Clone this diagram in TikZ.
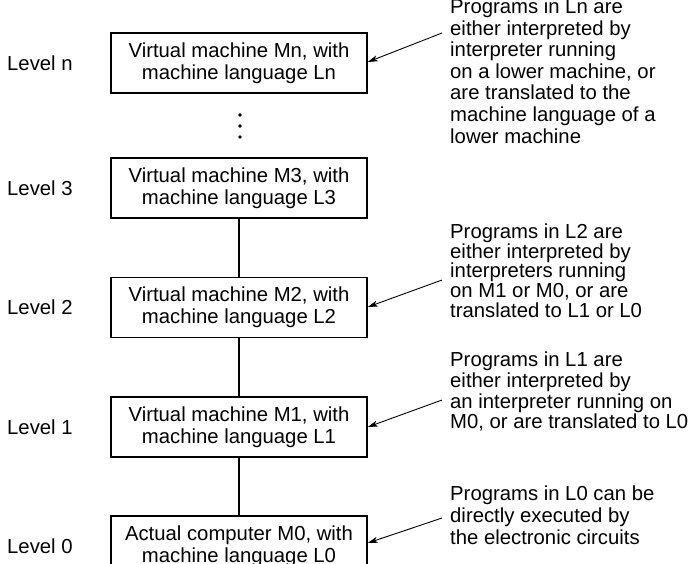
\documentclass[tikz,border=0pt]{standalone}
\usepackage{fontspec}
\setmainfont{Liberation Sans}
\usetikzlibrary{arrows.meta}
\begin{document}
\begin{tikzpicture}[x=1pt,y=-1pt,
  box/.style={draw, line width=1.5pt, minimum width=256pt, minimum height=60pt, inner sep=0pt, align=center, font=\fontsize{20.3}{21.7}\selectfont},
  lvl/.style={anchor=west, inner sep=0pt, font=\fontsize{20.3}{24}\selectfont},
  note/.style={anchor=base west, inner sep=0pt, align=left, font=\fontsize{20.3}{#1}\selectfont},
  link/.style={line width=1.5pt},
  arr/.style={line width=0.9pt, -{Stealth[length=10pt,width=6pt,inset=2.5pt]}},
  dotmark/.style={fill=black, inner sep=0pt, minimum size=3.6pt, circle}]
\useasboundingbox (0,0) rectangle (690,563);

% boxes
\node[box] (bn) at (239,63)    {Virtual machine Mn, with\\machine language Ln};
\node[box] (b3) at (239,188)   {Virtual machine M3, with\\machine language L3};
\node[box] (b2) at (239,307.5) {Virtual machine M2, with\\machine language L2};
\node[box] (b1) at (239,427)   {Virtual machine M1, with\\machine language L1};
\node[box] (b0) at (239,546)   {Actual computer M0, with\\machine language L0};

% level labels
\node[lvl] (ln) at (7,63)    {Level n};
\node[lvl] (l3) at (7,188)   {Level 3};
\node[lvl] (l2) at (7,307.5) {Level 2};
\node[lvl] (l1) at (7,427)   {Level 1};
\node[lvl] (l0) at (7,546)   {Level 0};

% dots
\node[dotmark] (d1) at (240,115) {};
\node[dotmark] (d2) at (240,126) {};
\node[dotmark] (d3) at (240,137) {};

% connectors
\draw[link] (b3.south) -- (b2.north);
\draw[link] (b2.south) -- (b1.north);
\draw[link] (b1.south) -- (b0.north);

% notes (anchored at the baseline of their last line)
\node[note=21.6] (nn) at (450,143.1) {Programs in Ln are\\either interpreted by\\interpreter running\\on a lower machine, or\\are translated to the\\machine language of a\\lower machine};
\node[note=19.8] (n2) at (450,317.5) {Programs in L2 are\\either interpreted by\\interpreters running\\on M1 or M0, or are\\translated to L1 or L0};
\node[note=20.8] (n1) at (450,428.9) {Programs in L1 are\\either interpreted by\\an interpreter running on\\M0, or are translated to L0};
\node[note=21.7] (n0) at (450,544.1) {Programs in L0 can be\\directly executed by\\the electronic circuits};

% arrows
\coordinate (sn) at (442,33);
\coordinate (s2) at (442,280);
\coordinate (s1) at (442,400);
\coordinate (s0) at (442,518);
\draw[arr] (sn) -- ([yshift=1pt]bn.east);
\draw[arr] (s2) -- ([yshift=0.5pt]b2.east);
\draw[arr] (s1) -- (b1.east);
\draw[arr] (s0) -- ([yshift=3pt]b0.east);
\end{tikzpicture}
\end{document}
